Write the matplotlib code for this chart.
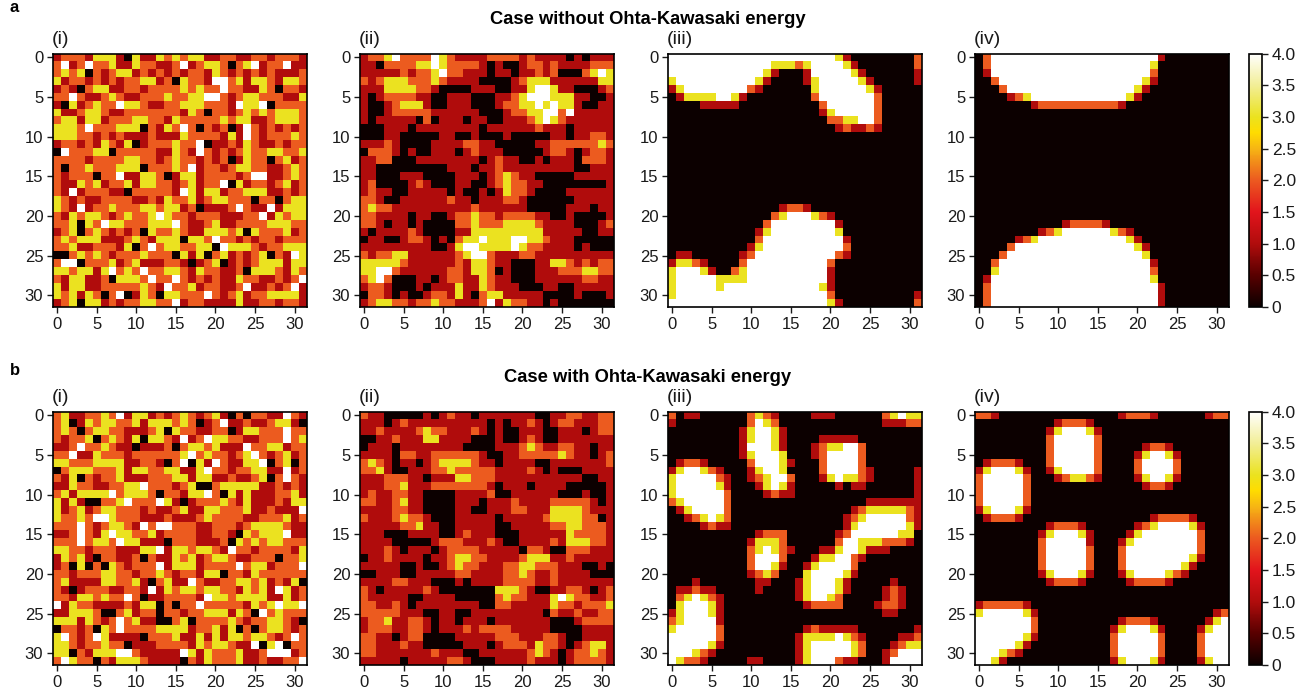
"""Eight 32x32 lattice snapshots (0-4 per site), without and with Ohta-Kawasaki energy."""

import matplotlib
matplotlib.use("Agg")
import matplotlib.pyplot as plt
import numpy as np
from matplotlib.colors import LinearSegmentedColormap

plt.rcParams["font.family"] = ["Liberation Sans", "DejaVu Sans"]

A_I = [
    "1222133310 3113232331 1221122122 21", "2412422311 3221124123 3202341224 11",
    "2323021233 1212121221 3212121211 12", "3122121212 2331203221 4423133213 32",
    "1210233112 2122223232 2422113202 21", "2242112321 1222322334 4212332221 13",
    "1031232243 3211223332 2214334022 22", "3112332112 2222221320 2212323233 32",
    "2331331222 3322132222 2323311233 32", "3332422233 3021324202 1201421212 12",
    "3332212121 1121113222 2131421222 32", "1221213213 0122232240 1121321121 22",
    "0422233022 2221132142 1212322332 23", "2222122223 3221232212 1201322023 12",
    "2022322233 3022232412 2123322112 32", "2122202241 1332013312 2221244112 32",
    "2113231223 1332212312 2403122123 12", "2141222110 2222214313 3122333112 12",
    "3212112222 1121322312 3322202202 33", "3214122322 2332331201 1124211413 33",
    "2132332123 2234322122 2111224132 33", "2230324332 2233342112 3112222333 22",
    "1230232121 2032232113 3323032223 12", "2323331112 3213330332 4221212212 22",
    "2231122213 0242332233 0433321223 33", "0023232122 2322203130 2312123021 43",
    "2440222312 3111221012 3012123331 33", "3323313423 2422332132 2112033321 32",
    "2133112033 3242242121 2113221121 24", "3133112222 2321422312 2112411212 41",
    "3231320240 1320332224 2123122333 31", "1230331212 2332241221 1113112212 21",
]
A_II = [
    "1223422224 3211112222 1211110101 11", "1102222334 3222210100 1221211112 22",
    "1111121223 4221110110 1121200023 43", "2123332223 2111100001 2333111111 33",
    "1113333221 0000111001 1344311000 12", "1012222110 0111000112 3444333110 01",
    "1001233310 0111000122 3343433100 11", "1001222221 1111100012 2334424111 11",
    "1011111020 1110110011 1234321111 11", "0001110111 1111101111 1121110111 11",
    "0001100000 1100100010 0000110112 21", "1112100001 1112211000 0011222222 32",
    "0222101001 1101211100 0001221012 21", "1122000111 1111101211 0010111022 21",
    "1100000000 0111011211 1111111001 11", "1100011100 0011101232 1100000111 11",
    "1200001210 0011001232 2110000000 01", "1211001111 1010010132 2100001111 11",
    "2210011111 1211011122 1000000111 11", "2322111111 1111211111 1000001110 11",
    "2211110110 0122322122 2211001000 01", "2210110100 0022322233 3321111000 12",
    "1011112100 0011333333 3331111100 11", "0110012210 1023343334 4332111000 00",
    "1111111110 0134433334 3221111010 00", "2122331111 1123442111 2211111111 11",
    "3333321111 1121332110 0011332121 22", "3344211111 1221332010 0011122233 22",
    "2342000110 1221132110 0011111122 11", "1221000101 1131132111 0001100111 11",
    "0221010012 2131023311 1110000100 01", "1233221223 2211124132 2110100000 00",
]
A_III = [
    "44444444444444444444431000000002", "44444444444443332344443100000002",
    "44444444444431000144444310000001", "34444444444310000134444431000001",
    "13444444442100000034444443100000", "01333344310000000024444444200000",
    "00001111100000000002444444200000", "00000000000000000001344444200000",
    "00000000000000000000223344200000", "00000000000000000000012112100000",
    "00000000000000000000000000000000", "00000000000000000000000000000000",
    "00000000000000000000000000000000", "00000000000000000000000000000000",
    "00000000000000000000000000000000", "00000000000000000000000000000000",
    "00000000000000000000000000000000", "00000000000000000000000000000000",
    "00000000000000000000000000000000", "00000000000000122100000000000000",
    "00000000000002344432100000000000", "00000000000024444444410000000000",
    "00000000000134444444430000000000", "00000000000244444444441000000000",
    "00000000001344444444442000000000", "01100000012444444444421000000000",
    "13321000024444444444200000000000", "34443100234444444444100000000000",
    "34444433334444444444100000000000", "34444434444444444443100000000000",
    "34444444444444444444200000000001", "44444444444444444444310000000002",
]
A_IV = [
    "02444444444444444444444100000000", "02444444444444444444443000000000",
    "01444444444444444444442000000000", "00244444444444444444431000000000",
    "00024444444444444444310000000000", "00001234444444444443100000000000",
    "00000001222222222210000000000000", "00000000000000000000000000000000",
    "00000000000000000000000000000000", "00000000000000000000000000000000",
    "00000000000000000000000000000000", "00000000000000000000000000000000",
    "00000000000000000000000000000000", "00000000000000000000000000000000",
    "00000000000000000000000000000000", "00000000000000000000000000000000",
    "00000000000000000000000000000000", "00000000000000000000000000000000",
    "00000000000000000000000000000000", "00000000000000000000000000000000",
    "00000000000000000000000000000000", "00000000000122221000000000000000",
    "00000000123444444321000000000000", "00000123444444444443100000000000",
    "00002444444444444444310000000000", "00024444444444444444430000000000",
    "00244444444444444444441000000000", "00344444444444444444442000000000",
    "01444444444444444444443000000000", "02444444444444444444444100000000",
    "02444444444444444444444100000000", "02444444444444444444444100000000",
]
B_I = [
    "2311223241 3312123212 3102022114 21", "2301323322 3133323201 2411211233 10",
    "2320233221 1123032211 2201332224 22", "2122302321 3033214124 3322112224 23",
    "1124223211 0111202332 3111422331 22", "2241132221 2222223423 2212342123 12",
    "3322233331 1221024031 4211334023 02", "0233322231 3322331134 2212233114 12",
    "2130212231 1122233133 1121123024 21", "1132211223 3422212300 2333331121 21",
    "2313333423 3320221334 2031311122 31", "3131002234 2224310122 2321311121 33",
    "3123123322 2121123113 3222311211 14", "3223244322 2111211123 2222112223 12",
    "2224212332 1424422211 2221233332 11", "1124213433 2231222211 2210323334 11",
    "2224233243 3111022211 1203232332 22", "3322122211 1334133233 2142212222 13",
    "1323102211 2021132312 3321122202 23", "1203020321 2224133312 2224233122 24",
    "2212223322 1223212213 3022132222 22", "2311113322 3102311421 1223323121 30",
    "2101222112 2141323323 3221323143 12", "2213323224 2011222214 3323333113 12",
    "4132211112 1330202242 2222132343 34", "1133320023 1220221223 3313204232 22",
    "3331321242 3110023022 2232122332 10", "0221203242 2223333122 3130202332 12",
    "3421243111 1022231131 3133233212 42", "3321223220 1112222132 3321140340 22",
    "3302133344 2111114313 2223112444 12", "2432202133 3211110213 2223112112 24",
]
B_II = [
    "2110000010 1211011111 1100112211 22", "1110121111 1111110101 1210122111 22",
    "1121111232 2111210100 1110011101 22", "0011211133 1111000100 1210011111 11",
    "0111011111 1110000111 2321122110 11", "1111022112 2222210011 2222232110 12",
    "2321011012 3333211011 1100111111 12", "2231001112 2322222111 1210100011 11",
    "1112221101 1133222111 1111111100 11", "1112231112 2222221011 1011110000 01",
    "1211221100 0011112001 1111100010 01", "2211231100 0011101112 1111222221 01",
    "1111221100 0011001112 2111333321 11", "2111232210 0011111011 1112333322 01",
    "1111122311 0011111001 1111223322 21", "1110001111 0012111000 1111113222 21",
    "1111000001 2221112100 1111213332 21", "1112101110 1222211111 0221002221 11",
    "0112111101 1233221111 2333112111 11", "1111100100 1232211122 3322211100 10",
    "0011100111 1122111122 3211211110 00", "1111221110 0010111122 2211211111 11",
    "2101111121 0000000333 2100112210 12", "2111110011 1100000232 2111343221 12",
    "2211210111 1111100221 1111322122 23", "2222211100 1100111111 1110211211 22",
    "1223112210 1101110111 1111000122 22", "1222112210 1112122221 1111000011 11",
    "2211012200 0011111222 1112210011 11", "2211121100 0001110122 2132210123 31",
    "2211111112 1110011111 1232101223 21", "1111101111 1221000111 1211101222 21",
]
B_III = [
    "20110000002321000011100000023433", "10000000002432000000000000011122",
    "00000000013443100000000000000000", "00000000013443100001111100000000",
    "00000000014443100012334420000000", "00000000013444300012444420000000",
    "01221000002444310002444420000000", "13443210001344300002444421000001",
    "34444421001234420001343321000001", "34444431000134310000010110000001",
    "34444442000012110000000000000001", "23444442000000000000000001111111",
    "01344442000000000000000123333321", "00123432000000000000001234444421",
    "00001211000000000000001344444431", "00000000000122200000012444444330",
    "00000000001333200000024433322210", "00000000002343210001134431110000",
    "00000000002444200013344210000000", "00000000002443100134444200000000",
    "00000000001232000344443100000000", "00010000000110001344431000001000",
    "01121100000100001344431000012100", "02343210000000001344320000012100",
    "03444310000000000122220000122100", "13444310000000000000000000011000",
    "23444410000000000000000000000000", "34444420000000000121111100000001",
    "44444420000000001333343210000112", "44444310000000001344444320001233",
    "44432100000000001344444320012444", "43221000001100001344421100014444",
]
B_IV = [
    "22100000000000000012221000000122", "00000000001222100000000000000000",
    "00000000013444310000000000000000", "00000000024444420000000000000000",
    "00000000024444420000012210000000", "00000000024444420000134431000000",
    "01222100024444420000244442000000", "13444310013444420000244442000000",
    "24444420001233210000134431000000", "24444420000000000000012210000000",
    "24444420000000000000000000000000", "24444420000000000000000000000000",
    "13444310000000000000000000000000", "01222100000000000000001222210000",
    "00000000012221000000123444431000", "00000000134443100001344444442000",
    "00000000244444100013444444442000", "00000000244444200024444444442000",
    "00000000244444200024444444431000", "00000000244444200024444444310000",
    "00000000134443100013444432100000", "00000000012221000001222210000000",
    "00000000000000000000000000000000", "00000000000000000000000000000000",
    "12222210000000000000000000000000", "34444431000000000000000000000012",
    "44444442000000000012221000000134", "44444442000000000134443100001344",
    "44444431000000000244444200002444", "44444310000000000244444200002444",
    "44432100000000000244444200002444", "44310000000000000134443100001344",
]

PANEL_LABELS = ["(i)", "(ii)", "(iii)", "(iv)"]
ROW_TITLES = ["Case without Ohta-Kawasaki energy", "Case with Ohta-Kawasaki energy"]
ROW_LETTERS = ["a", "b"]
TICKS = [0, 5, 10, 15, 20, 25, 30]
CBAR_TICKS = [0, 0.5, 1, 1.5, 2, 2.5, 3, 3.5, 4]
CBAR_LABELS = ["0", "0.5", "1.0", "1.5", "2.0", "2.5", "3.0", "3.5", "4.0"]

W, H = 1314, 690

# hot-like map, muted to the printed colours
CMAP = LinearSegmentedColormap.from_list("hot_print", [
    (0.0, "#0c0000"), (0.125, "#5a0000"), (0.25, "#b00c0c"), (0.375, "#e2141c"),
    (0.5, "#ec5a20"), (0.625, "#f6b414"), (0.69, "#ffdc00"), (0.75, "#ebe21e"),
    (0.875, "#f2ee96"), (1.0, "#ffffff"),
])


def to_grid(rows):
    out = []
    for r in rows:
        s = r.replace(" ", "")
        if len(s) != 32:
            print("bad row", len(s), r)
        out.append([int(c) for c in (s + "0" * 32)[:32]])
    return np.array(out)


def px_axes(fig, x0, y0, x1, y1):
    return fig.add_axes([x0 / W, 1 - y1 / H, (x1 - x0) / W, (y1 - y0) / H])


def main():
    fig = plt.figure(figsize=(W / 100, H / 100), dpi=100)
    lefts = [53, 360, 668, 975]
    tops = [53.5, 411.5]
    title_y = [20, 378]
    letter_y = [8, 370]
    size = 253.5
    panels = [[A_I, A_II, A_III, A_IV], [B_I, B_II, B_III, B_IV]]

    for i, (top, row) in enumerate(zip(tops, panels)):
        for left, rows, lab in zip(lefts, row, PANEL_LABELS):
            ax = px_axes(fig, left, top, left + size, top + size)
            im = ax.imshow(to_grid(rows), cmap=CMAP, vmin=0, vmax=4, interpolation="nearest")
            ax.set_xticks(TICKS)
            ax.set_yticks(TICKS)
            ax.tick_params(labelsize=12, length=4, width=1, pad=3, colors="#1a1a1a")
            for s in ax.spines.values():
                s.set_linewidth(1.2)
            fig.text((left - 1) / W, 1 - (top - 6) / H, lab, fontsize=14, color="#1a1a1a", ha="left", va="bottom")
        cax = px_axes(fig, 1248.5, top, 1262, top + size)
        cb = fig.colorbar(im, cax=cax)
        cb.set_ticks(CBAR_TICKS)
        cb.set_ticklabels(CBAR_LABELS)
        cb.ax.tick_params(labelsize=12.5, length=4, width=1, pad=3, colors="#1a1a1a")
        cb.outline.set_linewidth(1.2)
        fig.text(648 / W, 1 - title_y[i] / H, ROW_TITLES[i], fontsize=13.2, fontweight="bold", ha="center", va="center")
        fig.text(10 / W, 1 - letter_y[i] / H, ROW_LETTERS[i], fontsize=12, fontweight="bold", ha="left", va="center")

    fig.savefig("out.png", dpi=100)
    plt.close(fig)


if __name__ == "__main__":
    main()
